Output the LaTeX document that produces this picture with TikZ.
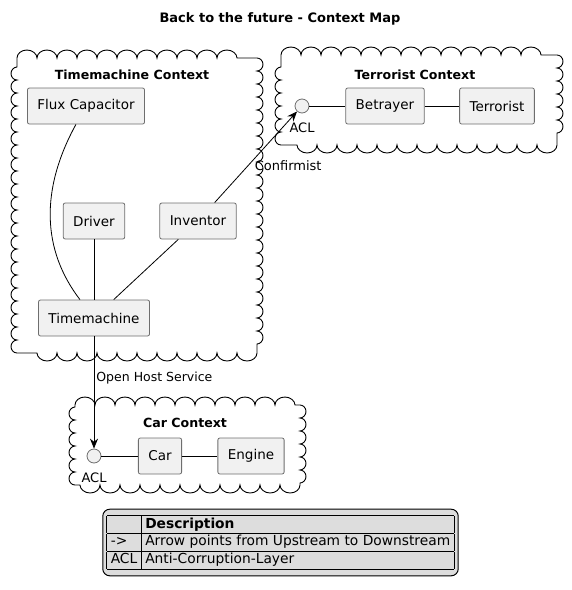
\documentclass[tikz,border=0pt]{standalone}
\usepackage{fontspec}
\setmainfont{DejaVu Sans}
\usetikzlibrary{arrows.meta,decorations.pathmorphing}
\definecolor{boxfill}{HTML}{F1F1F1}
\definecolor{boxline}{HTML}{6E6E6E}
\definecolor{legendfill}{HTML}{DDDDDD}
\begin{document}
\begin{tikzpicture}[x=1pt,y=-1pt,
    comp/.style={draw=boxline,fill=boxfill,line width=0.8pt,rounded corners=2pt,minimum height=36pt,inner xsep=10pt,font=\fontsize{13.5}{16}\selectfont},
    acl/.style={circle,draw=boxline,fill=boxfill,line width=0.8pt,minimum size=14pt,inner sep=0pt,
      label={[lbl,font=\fontsize{13}{15}\selectfont,label distance=7pt]below:ACL}},
    ctxline/.style={draw,line width=0.9pt},
    hb/.style={decoration={bumps,segment length=40pt,amplitude=8pt}},
    vb/.style={decoration={bumps,segment length=26pt,amplitude=6pt}},
    ctxtitle/.style={font=\fontsize{12.6}{15}\selectfont\bfseries},
    lbl/.style={font=\fontsize{12.5}{15}\selectfont,inner sep=2pt},
    rel/.style={line width=0.8pt},
    up/.style={rel,-{Stealth[length=10pt,width=8pt]}}]
  \useasboundingbox (0,0) rectangle (572,590);
  \node[font=\fontsize{13}{16}\selectfont\bfseries] (title) at (280,19) {Back to the future - Context Map};

  % contexts
  \path[ctxline] decorate[hb]{(17,58) -- (257,58)} decorate[vb]{(257,58) -- (257,353)}
    decorate[hb]{(257,353) -- (17,353)} decorate[vb]{(17,353) -- (17,58)};
  \path[ctxline] decorate[hb]{(281,55) -- (557,55)} decorate[vb]{(557,55) -- (557,145)}
    decorate[hb]{(557,145) -- (281,145)} decorate[vb]{(281,145) -- (281,55)};
  \path[ctxline] decorate[hb]{(75,405) -- (300,405)} decorate[vb]{(300,405) -- (300,485)}
    decorate[hb]{(300,485) -- (75,485)} decorate[vb]{(75,485) -- (75,405)};
  \node[ctxtitle] (tmctx) at (132,75) {Timemachine Context};
  \node[ctxtitle] (terctx) at (415,75) {Terrorist Context};
  \node[ctxtitle] (carctx) at (185,423) {Car Context};

  \node[comp] (flux) at (86,106) {Flux Capacitor};
  \node[comp] (driver) at (94,221) {Driver};
  \node[comp] (inventor) at (198,221) {Inventor};
  \node[comp] (tm) at (94,318) {Timemachine};
  \node[acl] (tacl) at (302,106) {};
  \node[comp] (betrayer) at (385,106) {Betrayer};
  \node[comp] (terrorist) at (497,106) {Terrorist};
  \node[acl] (cacl) at (94,456) {};
  \node[comp] (car) at (160,456) {Car};
  \node[comp] (engine) at (251,456) {Engine};

  \draw[rel] (flux) .. controls (40,190) and (42,250) .. (tm);
  \draw[rel] (driver) -- (tm);
  \draw[rel] (inventor) -- (tm);
  \draw[up] (inventor) -- node[lbl,font=\fontsize{13}{15}\selectfont,pos=0.41,right=4pt] {Confirmist} (tacl);
  \draw[rel] (tacl) -- (betrayer) (betrayer) -- (terrorist);
  \draw[up] (tm) -- node[lbl,pos=0.37,right] {Open Host Service} (cacl);
  \draw[rel] (cacl) -- (car) (car) -- (engine);

  % legend
  \node[draw,line width=1pt,fill=legendfill,rounded corners=7pt,inner xsep=4pt,inner ysep=6pt,
    font=\fontsize{13.8}{17}\selectfont] (legend) at (280.5,542.5)
    {\setlength{\tabcolsep}{4pt}\setlength{\arrayrulewidth}{0.9pt}%
     \begin{tabular}{|l|l|}\hline
       & \textbf{Description}\\\hline
     -> & Arrow points from Upstream to Downstream\\\hline
     ACL & Anti-Corruption-Layer\\\hline
     \end{tabular}};
\end{tikzpicture}
\end{document}
